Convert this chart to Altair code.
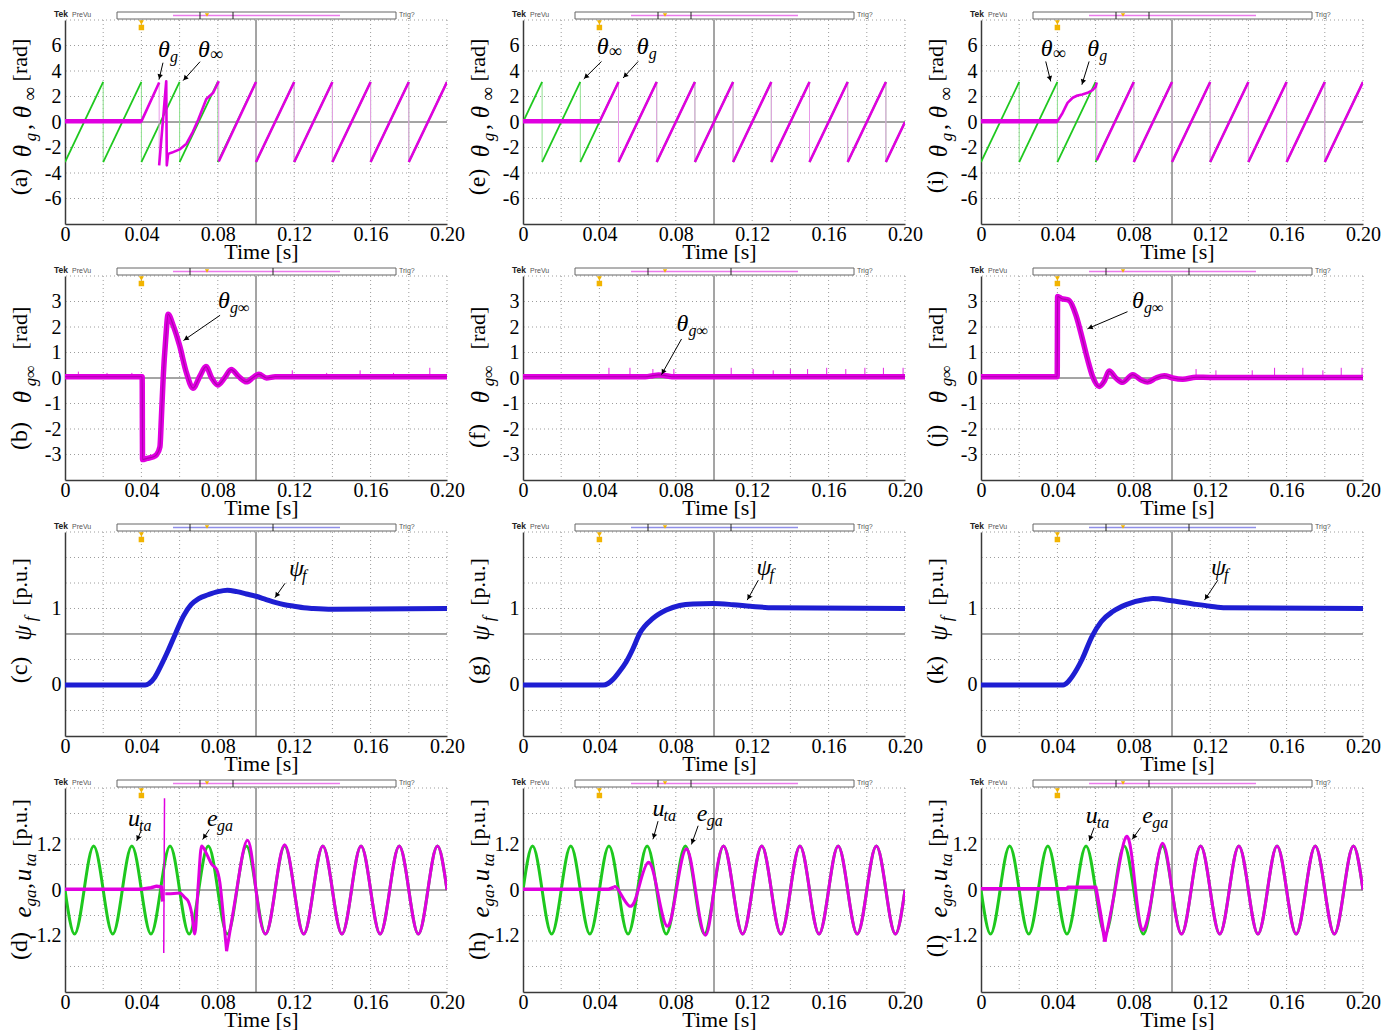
import math
import altair as alt
import pandas as pd

W, H = 382, 204
SERIF = "Liberation Serif"
SANS = "Liberation Sans"
GREEN = "#1ec81e"
GREEN_L = "#8fe08f"
MAG = "#e000e0"
MAG_L = "#e99ae9"
MAG_D = "#8a008a"
BLUE = "#1e1ed2"
GOLD = "#f2b400"
GRIDC = "#9c9c9c"
FRAME = "#3a3a3a"

# ---------------- axes / grid values ----------------
X_LABELS = [0.0, 0.04, 0.08, 0.12, 0.16, 0.2]
X_GRID = [0.02, 0.04, 0.06, 0.08, 0.12, 0.14, 0.16, 0.18, 0.2]
X_CENTER = [0.1]

ROWS = {
    "theta": dict(domain=[-8, 8], labels=[-6, -4, -2, 0, 2, 4, 6],
                  grid=[-6, -4, -2, 2, 4, 6, 8], center=[0.0]),
    "diff": dict(domain=[-4, 4], labels=[-3, -2, -1, 0, 1, 2, 3],
                 grid=[-3, -2, -1, 1, 2, 3, 4], center=[0.0]),
    "psi": dict(domain=[-0.6667, 2.0], labels=[0, 1],
                grid=[-0.3333, 0.0, 0.3333, 1.0, 1.3333, 1.6667, 2.0], center=[0.6667]),
    "volt": dict(domain=[-2.6667, 2.6667], labels=[-1.2, 0, 1.2],
                 grid=[-2.0, -1.3333, -0.6667, 0.6667, 1.3333, 2.0, 2.6667], center=[0.0]),
}

# ---------------- data: row 1 (theta_g, theta_inf) ----------------
SAW_A_T = [0.0, 0.02, 0.02, 0.04, 0.04, 0.06, 0.06, 0.08, 0.08, 0.10, 0.10,
           0.12, 0.12, 0.14, 0.14, 0.16, 0.16, 0.18, 0.18, 0.20]
SAW_A_V = [-3.14, 3.14, -3.14, 3.14, -3.14, 3.14, -3.14, 3.14, -3.14, 3.14,
           -3.14, 3.14, -3.14, 3.14, -3.14, 3.14, -3.14, 3.14, -3.14, 3.14]
A_G_T = [0.0, 0.04, 0.0493, 0.0493, 0.0530, 0.0533, 0.0540, 0.0560, 0.0600, 0.0636,
         0.0670, 0.0698, 0.0740, 0.0776, 0.0805, 0.0805, 0.10, 0.10, 0.12, 0.12,
         0.14, 0.14, 0.16, 0.16, 0.18, 0.18, 0.20]
A_G_V = [0.05, 0.05, 3.1, -3.4, 3.2, -3.4, -2.5, -2.4, -2.15, -1.7,
         -0.75, 0.2, 1.8, 2.3, 3.2, -3.1, 3.14, -3.14, 3.14, -3.14,
         3.14, -3.14, 3.14, -3.14, 3.14, -3.14, 3.14]

SAW_E_T = [0.0, 0.01, 0.01, 0.03, 0.03, 0.05, 0.05, 0.07, 0.07, 0.09, 0.09,
           0.11, 0.11, 0.13, 0.13, 0.15, 0.15, 0.17, 0.17, 0.19, 0.19, 0.20]
SAW_E_V = [0.0, 3.14, -3.14, 3.14, -3.14, 3.14, -3.14, 3.14, -3.14, 3.14, -3.14,
           3.14, -3.14, 3.14, -3.14, 3.14, -3.14, 3.14, -3.14, 3.14, -3.14, 0.0]
E_G_T = [0.0, 0.04, 0.05, 0.05, 0.07, 0.07, 0.09, 0.09, 0.11, 0.11, 0.13, 0.13,
         0.15, 0.15, 0.17, 0.17, 0.19, 0.19, 0.20]
E_G_V = [0.05, 0.0, 3.14, -3.14, 3.14, -3.14, 3.14, -3.14, 3.14, -3.14, 3.14, -3.14,
         3.14, -3.14, 3.14, -3.14, 3.14, -3.14, 0.0]

I_G_T = [0.0, 0.04, 0.0427, 0.0453, 0.048, 0.0505, 0.053, 0.0558, 0.0584, 0.060,
         0.0606, 0.0606, 0.08, 0.08, 0.10, 0.10, 0.12, 0.12, 0.14, 0.14, 0.16, 0.16,
         0.18, 0.18, 0.20]
I_G_V = [0.05, 0.05, 0.71, 1.5, 1.9, 2.08, 2.16, 2.29, 2.5, 2.76,
         3.1, -3.0, 3.14, -3.14, 3.14, -3.14, 3.14, -3.14, 3.14, -3.14, 3.14, -3.14,
         3.14, -3.14, 3.14]

# flat (pre-fault) part of theta_g, drawn as the thick noisy band
FLAT_T = [0.0, 0.04]
FLAT_V = [0.05, 0.05]

# ---------------- data: row 2 (theta_g_inf) ----------------
B_T = [0.0, 0.0404, 0.0406, 0.043, 0.046, 0.048, 0.0497, 0.0505, 0.0514, 0.0527,
       0.054, 0.0566, 0.060, 0.0636, 0.067, 0.0706, 0.0738, 0.0768, 0.0800, 0.0835,
       0.0870, 0.0910, 0.0950, 0.0985, 0.1015, 0.1055, 0.11, 0.2]
B_V = [0.05, 0.05, -3.2, -3.15, -3.1, -3.0, -2.7, -1.5, 0.0, 1.5,
       2.5, 2.07, 1.27, 0.2, -0.4, 0.07, 0.45, 0.0, -0.27, 0.0,
       0.33, 0.05, -0.15, 0.02, 0.15, 0.0, 0.05, 0.05]
B_SPK_T = [0.007, 0.022, 0.035, 0.119, 0.137, 0.1545, 0.172, 0.191]
B_SPK_H = [0.25, 0.2, 0.2, 0.3, 0.2, 0.3, 0.2, 0.4]

F_T = [0.0, 0.064, 0.068, 0.071, 0.074, 0.078, 0.2]
F_V = [0.05, 0.05, 0.09, 0.12, 0.1, 0.05, 0.05]
F_SPK_T = [0.045, 0.056, 0.068, 0.079, 0.109, 0.1205, 0.131, 0.140, 0.149, 0.159,
           0.169, 0.179, 0.1887, 0.199]
F_SPK_H = [0.4, 0.4, 0.35, 0.35, 0.4, 0.35, 0.3, 0.35, 0.35, 0.4, 0.35, 0.4, 0.4, 0.4]

J_T = [0.0, 0.0399, 0.0401, 0.042, 0.046, 0.0497, 0.0531, 0.0558, 0.0584, 0.0619,
       0.0645, 0.0671, 0.0706, 0.0741, 0.0794, 0.0837, 0.0872, 0.0916, 0.096, 0.1003,
       0.1056, 0.1126, 0.12, 0.2]
J_V = [0.05, 0.05, 3.2, 3.12, 3.05, 2.47, 1.53, 0.73, 0.07, -0.33,
       -0.13, 0.27, 0.0, -0.17, 0.13, -0.07, -0.16, 0.0, 0.09, 0.0,
       -0.05, 0.03, 0.02, 0.02]
J_SPK_T = [0.1126, 0.123, 0.142, 0.1537, 0.1685, 0.179, 0.1886, 0.1995]
J_SPK_H = [0.35, 0.3, 0.3, 0.4, 0.4, 0.3, 0.4, 0.4]

# ---------------- data: row 3 (psi_f) ----------------
C_T = [0.0, 0.042, 0.044, 0.047, 0.050, 0.054, 0.058, 0.062, 0.066, 0.070, 0.075,
       0.080, 0.085, 0.090, 0.095, 0.100, 0.105, 0.110, 0.115, 0.120, 0.125, 0.130,
       0.140, 0.2]
C_V = [0.0, 0.0, 0.02, 0.1, 0.24, 0.45, 0.68, 0.9, 1.05, 1.13, 1.18,
       1.22, 1.24, 1.22, 1.19, 1.16, 1.12, 1.08, 1.05, 1.03, 1.01, 1.0,
       0.99, 1.0]
G_T = [0.0, 0.042, 0.0445, 0.0472, 0.050, 0.054, 0.0575, 0.061, 0.068, 0.075, 0.082,
       0.089, 0.0996, 0.110, 0.119, 0.131, 0.2]
G_V = [0.0, 0.0, 0.02, 0.075, 0.16, 0.3, 0.47, 0.67, 0.87, 0.98, 1.04,
       1.06, 1.065, 1.05, 1.03, 1.01, 1.0]
K_T = [0.0, 0.043, 0.0455, 0.048, 0.053, 0.058, 0.063, 0.069, 0.076, 0.0864, 0.090,
       0.100, 0.111, 0.120, 0.128, 0.2]
K_V = [0.0, 0.0, 0.04, 0.12, 0.34, 0.63, 0.83, 0.96, 1.05, 1.12, 1.13,
       1.10, 1.06, 1.03, 1.01, 1.0]

# ---------------- data: row 4 (e_ga, u_ta) ----------------
Q_T = [0.0, 0.005, 0.01, 0.015, 0.02, 0.025, 0.03, 0.035, 0.04, 0.045, 0.05, 0.055,
       0.06, 0.065, 0.07, 0.075, 0.08, 0.085, 0.09, 0.095, 0.1, 0.105, 0.11, 0.115,
       0.12, 0.125, 0.13, 0.135, 0.14, 0.145, 0.15, 0.155, 0.16, 0.165, 0.17, 0.175,
       0.18, 0.185, 0.19, 0.195, 0.2]
U_NEG = [0, -1.15, 0, 1.15, 0, -1.15, 0, 1.15, 0, -1.15, 0, 1.15, 0, -1.15, 0, 1.15,
         0, -1.15, 0, 1.15, 0, -1.15, 0, 1.15, 0, -1.15, 0, 1.15, 0, -1.15, 0, 1.15,
         0, -1.15, 0, 1.15, 0, -1.15, 0, 1.15, 0]
U_POS = [0, 1.15, 0, -1.15, 0, 1.15, 0, -1.15, 0, 1.15, 0, -1.15, 0, 1.15, 0, -1.15,
         0, 1.15, 0, -1.15, 0, 1.15, 0, -1.15, 0, 1.15, 0, -1.15, 0, 1.15, 0, -1.15,
         0, 1.15, 0, -1.15, 0, 1.15, 0, -1.15, 0]

D_E0_T = [0.0, 0.040, 0.045, 0.048, 0.0505, 0.0512]
D_E0_V = [0.02, 0.02, 0.06, 0.1, 0.08, -0.3]
D_SPIKE_T = [0.0517, 0.0521]
D_SPIKE_V = [-1.65, 2.4]
D_E1_T = [0.0525, 0.054, 0.060, 0.0628, 0.0645, 0.0663, 0.068, 0.0697, 0.0715, 0.0741,
          0.0767, 0.0794, 0.0811, 0.0829, 0.0846]
D_E1_V = [-0.1, -0.1, -0.08, -0.2, -0.29, -0.6, -1.15, 0.1, 1.15, 0.95,
          0.68, 0.54, 0.19, -0.68, -1.6]
D_E2_T = [0.0846, 0.0899, 0.0955, 0.1, 0.105, 0.11, 0.115, 0.12, 0.125, 0.13, 0.135,
          0.14, 0.145, 0.15, 0.155, 0.16, 0.165, 0.17, 0.175, 0.18, 0.185, 0.19,
          0.195, 0.2]
D_E2_V = [-1.6, 0.0, 1.3, 0.0, -1.15, 0.0, 1.18, 0.0, -1.15, 0.0, 1.15,
          0.0, -1.15, 0.0, 1.15, 0.0, -1.15, 0.0, 1.15, 0.0, -1.15, 0.0,
          1.15, 0.0]

H_E0_T = [0.0, 0.045, 0.0475]
H_E0_V = [0.02, 0.02, 0.07]
H_E1_T = [0.0475, 0.050, 0.0557, 0.0603, 0.0655, 0.0703, 0.0755, 0.0803, 0.0855,
          0.0903, 0.0955, 0.1, 0.105, 0.11, 0.115, 0.12, 0.125, 0.13, 0.135, 0.14,
          0.145, 0.15, 0.155, 0.16, 0.165, 0.17, 0.175, 0.18, 0.185, 0.19, 0.195, 0.2]
H_E1_V = [0.07, 0.0, -0.42, 0.0, 0.72, 0.0, -0.95, 0.0, 1.08,
          0.0, -1.18, 0.0, 1.15, 0.0, -1.15, 0.0, 1.15, 0.0, -1.15, 0.0,
          1.15, 0.0, -1.15, 0.0, 1.15, 0.0, -1.15, 0.0, 1.15, 0.0, -1.15, 0.0]

L_E0_T = [0.0, 0.045, 0.0455, 0.0601, 0.0625, 0.0649]
L_E0_V = [0.03, 0.03, 0.07, 0.07, -0.6, -1.35]
L_E1_T = [0.0649, 0.0705, 0.0762, 0.0805, 0.0846, 0.090, 0.0951, 0.1, 0.105, 0.11,
          0.115, 0.12, 0.125, 0.13, 0.135, 0.14, 0.145, 0.15, 0.155, 0.16, 0.165,
          0.17, 0.175, 0.18, 0.185, 0.19, 0.195, 0.2]
L_E1_V = [-1.35, 0.1, 1.4, 0.2, -1.05, 0.0, 1.22, 0.0, -1.15, 0.0,
          1.15, 0.0, -1.15, 0.0, 1.15, 0.0, -1.15, 0.0, 1.15, 0.0, -1.15,
          0.0, 1.15, 0.0, -1.15, 0.0, 1.15, 0.0]

LETTERS = [["(a)", "(e)", "(i)"], ["(b)", "(f)", "(j)"],
           ["(c)", "(g)", "(k)"], ["(d)", "(h)", "(l)"]]

ONE = pd.DataFrame({"k": [0]})

# ---------------- helpers ----------------
XSCALE = alt.Scale(domain=[0, 0.2], nice=False, zero=False)
XAXIS = alt.Axis(values=X_LABELS,
                 labelExpr="datum.value == 0 ? '0' : format(datum.value, '.2f')",
                 grid=False, ticks=False, tickSize=0, domain=True, domainColor=FRAME,
                 domainWidth=1.5, labelFont=SERIF, labelFontSize=20, labelColor="black",
                 labelPadding=0, labelOverlap=False, labelFlush=False,
                 title="Time [s]", titleFont=SERIF, titleFontSize=22,
                 titleFontWeight="normal", titleColor="black", titleX=196, titleY=34,
                 titleBaseline="alphabetic")


def yscale(kind):
    return alt.Scale(domain=ROWS[kind]["domain"], nice=False, zero=False)


def yaxis(kind):
    return alt.Axis(values=ROWS[kind]["labels"], labelExpr="'' + datum.value",
                    grid=False, ticks=False, tickSize=0, domain=True, domainColor=FRAME,
                    domainWidth=1.5, labelFont=SERIF, labelFontSize=20,
                    labelColor="black", labelPadding=4, labelOverlap=False, title="")


def xenc(field):
    return alt.X(field, type="quantitative", scale=XSCALE, axis=XAXIS)


def yenc(field, kind):
    return alt.Y(field, type="quantitative", scale=yscale(kind), axis=yaxis(kind))


def xd(t):
    return alt.XDatum(t, type="quantitative", scale=XSCALE, axis=XAXIS)


def yd(v, kind):
    return alt.YDatum(v, type="quantitative", scale=yscale(kind), axis=yaxis(kind))


def trace(ts, vs, kind, color, width, interp="linear", drop_color=None, opacity=1.0):
    """Line through the points; equal consecutive times are drawn as thin drops."""
    seg, segs, drops = 0, [], []
    for i in range(len(ts)):
        if i > 0 and ts[i] == ts[i - 1]:
            seg += 1
            drops.append((ts[i], vs[i - 1], vs[i]))
        segs.append(seg)
    df = pd.DataFrame({"t": ts, "v": vs, "i": list(range(len(ts))), "s": segs})
    out = []
    if drops:
        dd = pd.DataFrame({"t": [d[0] for d in drops], "a": [d[1] for d in drops],
                           "b": [d[2] for d in drops]})
        out.append(alt.Chart(dd).mark_rule(color=drop_color or color, strokeWidth=1).encode(
            x=xenc("t"), y=yenc("a", kind), y2="b:Q"))
    out.append(alt.Chart(df).mark_line(color=color, strokeWidth=width, interpolate=interp,
                                       clip=True, strokeJoin="round", opacity=opacity).encode(
        x=xenc("t"), y=yenc("v", kind), detail="s:N", order=alt.Order("i:Q")))
    return out


def spikes(ts, hs, kind, color):
    df = pd.DataFrame({"t": ts, "lo": [0.05] * len(ts), "hi": hs})
    return [alt.Chart(df).mark_rule(color=color, strokeWidth=1, opacity=0.85).encode(
        x=xenc("t"), y=yenc("lo", kind), y2="hi:Q")]


def grids(kind):
    r = ROWS[kind]
    dot = dict(color=GRIDC, strokeDash=[1, 3], strokeWidth=1)
    return [
        alt.Chart(pd.DataFrame({"t": X_GRID})).mark_rule(**dot).encode(x=xenc("t")),
        alt.Chart(pd.DataFrame({"v": r["grid"]})).mark_rule(**dot).encode(y=yenc("v", kind)),
        alt.Chart(pd.DataFrame({"t": X_CENTER})).mark_rule(color="#4a4a4a", strokeWidth=1).encode(x=xenc("t")),
        alt.Chart(pd.DataFrame({"v": r["center"]})).mark_rule(color="#4a4a4a", strokeWidth=1).encode(y=yenc("v", kind)),
    ]


def ptxt(text, x, y, size, italic=False, angle=0, align="center", color="black",
         font=SERIF, weight="normal"):
    kw = dict(text=text, font=font, fontSize=size, align=align, baseline="alphabetic",
              color=color, fontWeight=weight)
    if italic:
        kw["fontStyle"] = "italic"
    if angle:
        kw["angle"] = angle
    return alt.Chart(ONE).mark_text(**kw).encode(x=alt.value(x), y=alt.value(y))


def dtxt(text, t, v, kind, size, italic=True, dx=0, dy=0):
    kw = dict(text=text, font=SERIF, fontSize=size, align="left", baseline="alphabetic",
              color="black", dx=dx, dy=dy)
    if italic:
        kw["fontStyle"] = "italic"
    return alt.Chart(ONE).mark_text(**kw).encode(x=xd(t), y=yd(v, kind))


def symbol(t, v, kind, main, sub, sub_italic=True, sub_size=16, sub_dx=12, sub_dy=5):
    return [dtxt(main, t, v, kind, 24),
            dtxt(sub, t, v, kind, sub_size, italic=sub_italic, dx=sub_dx, dy=sub_dy)]


def arrow(t1, v1, t2, v2, kind):
    lo, hi = ROWS[kind]["domain"]
    kx = W / 0.2
    ky = H / (hi - lo)
    dx = (t2 - t1) * kx
    dy = -(v2 - v1) * ky
    L = math.hypot(dx, dy)
    ang = math.degrees(math.atan2(dx, -dy)) % 360
    th = t2 - 3 * dx / L / kx
    vh = v2 + 3 * dy / L / ky
    line = alt.Chart(ONE).mark_rule(color="black", strokeWidth=1).encode(
        x=xd(t1), y=yd(v1, kind), x2=alt.datum(t2), y2=alt.datum(v2))
    head = alt.Chart(ONE).mark_point(shape="triangle-up", filled=True, color="black",
                                     size=30, angle=ang, opacity=1).encode(
        x=xd(th), y=yd(vh, kind))
    return [line, head]


def header(row):
    inner = "#8f8fe8" if row == 2 else "#ea7aea"
    br = [135, 168] if row in (0, 3) else [125, 208]
    out = [
        ptxt("Tek", -11, -3, 8.5, font=SANS, weight="bold", align="left", color="#222"),
        ptxt("PreVu", 7, -3, 7, font=SANS, align="left", color="#555"),
        alt.Chart(ONE).mark_rect(fill="white", stroke="#666", strokeWidth=1).encode(
            x=alt.value(52), x2=alt.value(331), y=alt.value(-8), y2=alt.value(-1)),
        alt.Chart(ONE).mark_rule(color=inner, strokeWidth=1.5).encode(
            x=alt.value(108), x2=alt.value(275), y=alt.value(-4.5)),
        ptxt("Trig?", 334, -3, 7, font=SANS, align="left", color="#555"),
        alt.Chart(ONE).mark_point(shape="triangle-down", filled=True, color=GOLD, size=18,
                                  opacity=1).encode(x=alt.value(142), y=alt.value(-5)),
        alt.Chart(ONE).mark_point(shape="triangle-down", filled=True, color=GOLD, size=26,
                                  opacity=1).encode(x=alt.value(76.4), y=alt.value(2.5)),
        alt.Chart(ONE).mark_point(shape="square", filled=True, color=GOLD, size=30,
                                  opacity=1).encode(x=alt.value(76.4), y=alt.value(7.5)),
    ]
    for b in br:
        out.append(alt.Chart(ONE).mark_rule(color="#222", strokeWidth=1).encode(
            x=alt.value(b), y=alt.value(-8), y2=alt.value(-1)))
    return out


# baselines of the rotated y-title pieces (pixels left of the plot)
TXT_X = -38    # panel letter and unit
MATH_X = -34   # math symbols
SUB_X = -29    # subscripts
TITLES = {
    0: [("LBL", 162, 24, False, "t"), ("θ", 131, 25, True, "m"),
        ("g", 117, 17, True, "s"), (",", 107, 24, False, "m"),
        ("θ", 92, 25, True, "m"), ("∞", 74, 19, False, "s"),
        ("[rad]", 40, 22, False, "t")],
    1: [("LBL", 160, 24, False, "t"), ("θ", 121, 25, True, "m"),
        ("g∞", 100, 17, True, "s"), ("[rad]", 52, 22, False, "t")],
    2: [("LBL", 138, 24, False, "t"), ("ψ", 101, 25, True, "m"),
        ("f", 87, 17, True, "s"), ("[p.u.]", 50, 22, False, "t")],
    3: [("LBL", 158, 24, False, "t"), ("e", 124, 25, True, "m"),
        ("ga", 110, 17, True, "s"), (",", 98, 24, False, "m"),
        ("u", 87, 25, True, "m"), ("ta", 72, 17, True, "s"),
        ("[p.u.]", 35, 22, False, "t")],
}
XPOS = {"t": TXT_X, "m": MATH_X, "s": SUB_X}


def ytitle(row, col):
    out = []
    for text, yc, size, it, role in TITLES[row]:
        if text == "LBL":
            text = LETTERS[row][col]
        out.append(ptxt(text, XPOS[role], yc, size, italic=it, angle=270))
    return out


def panel(row, col, kind, content):
    layers = grids(kind) + content + header(row) + ytitle(row, col)
    if row == 0 and col == 0:
        layers.append(alt.Chart(ONE).mark_rule(opacity=0, strokeWidth=0.01).encode(
            x=alt.value(0), x2=alt.value(0), y=alt.value(-12), y2=alt.value(-12)))
    return alt.layer(*layers).properties(width=W, height=H)


TH = "theta"
pa = panel(0, 0, TH,
           trace(SAW_A_T, SAW_A_V, TH, GREEN, 1.8, drop_color=GREEN_L)
           + trace(A_G_T, A_G_V, TH, MAG, 2.6, drop_color=MAG_L)
           + trace(FLAT_T, FLAT_V, TH, MAG, 4.5)
           + symbol(0.0487, 5.1, TH, "θ", "g")
           + symbol(0.0696, 5.1, TH, "θ", "∞", sub_italic=False, sub_size=18, sub_dy=3)
           + arrow(0.0513, 4.65, 0.0492, 3.32, TH)
           + arrow(0.0707, 4.73, 0.0618, 3.24, TH))
pe = panel(0, 1, TH,
           trace(SAW_E_T, SAW_E_V, TH, GREEN, 1.8, drop_color=GREEN_L)
           + trace(E_G_T, E_G_V, TH, MAG, 2.6, drop_color=MAG_L)
           + trace(FLAT_T, FLAT_V, TH, MAG, 4.5)
           + symbol(0.0386, 5.3, TH, "θ", "∞", sub_italic=False, sub_size=18, sub_dy=3)
           + symbol(0.0596, 5.3, TH, "θ", "g")
           + arrow(0.0411, 4.75, 0.0318, 3.37, TH)
           + arrow(0.0603, 4.75, 0.0524, 3.45, TH))
pi = panel(0, 2, TH,
           trace(SAW_A_T, SAW_A_V, TH, GREEN, 1.8, drop_color=GREEN_L)
           + trace(I_G_T, I_G_V, TH, MAG, 2.6, drop_color=MAG_L)
           + trace(FLAT_T, FLAT_V, TH, MAG, 4.5)
           + symbol(0.0313, 5.2, TH, "θ", "∞", sub_italic=False, sub_size=18, sub_dy=3)
           + symbol(0.0556, 5.2, TH, "θ", "g")
           + arrow(0.0339, 4.75, 0.0365, 3.18, TH)
           + arrow(0.0566, 4.75, 0.0528, 2.92, TH))

DF = "diff"
pb = panel(1, 0, DF,
           spikes(B_SPK_T, B_SPK_H, DF, MAG)
           + trace(B_T, B_V, DF, MAG, 5.5, "monotone")
           + trace(B_T, B_V, DF, MAG_D, 1.2, "monotone", opacity=0.6)
           + symbol(0.0801, 2.73, DF, "θ", "g∞")
           + arrow(0.0812, 2.46, 0.0620, 1.47, DF))
pf = panel(1, 1, DF,
           spikes(F_SPK_T, F_SPK_H, DF, MAG)
           + trace(F_T, F_V, DF, MAG, 5.5, "monotone")
           + trace(F_T, F_V, DF, MAG_D, 1.2, "monotone", opacity=0.6)
           + symbol(0.0804, 1.85, DF, "θ", "g∞")
           + arrow(0.083, 1.53, 0.0725, 0.13, DF))
pj = panel(1, 2, DF,
           spikes(J_SPK_T, J_SPK_H, DF, MAG)
           + trace(J_T, J_V, DF, MAG, 5.5, "monotone")
           + trace(J_T, J_V, DF, MAG_D, 1.2, "monotone", opacity=0.6)
           + symbol(0.0791, 2.73, DF, "θ", "g∞")
           + arrow(0.0767, 2.6, 0.0557, 1.93, DF))

PS = "psi"
pc = panel(2, 0, PS, trace(C_T, C_V, PS, BLUE, 5, "monotone")
           + symbol(0.1173, 1.42, PS, "ψ", "f", sub_dx=13)
           + arrow(0.1152, 1.33, 0.1099, 1.14, PS))
pg = panel(2, 1, PS, trace(G_T, G_V, PS, BLUE, 5, "monotone")
           + symbol(0.1223, 1.44, PS, "ψ", "f", sub_dx=13)
           + arrow(0.1232, 1.37, 0.1174, 1.11, PS))
pk = panel(2, 2, PS, trace(K_T, K_V, PS, BLUE, 5, "monotone")
           + symbol(0.1204, 1.44, PS, "ψ", "f", sub_dx=13)
           + arrow(0.124, 1.37, 0.117, 1.11, PS))

VT = "volt"
pd_ = panel(3, 0, VT,
            trace(Q_T, U_NEG, VT, GREEN, 3, "natural")
            + trace(D_E0_T, D_E0_V, VT, MAG, 3.5)
            + trace(D_SPIKE_T, D_SPIKE_V, VT, MAG, 1.5)
            + trace(D_E1_T, D_E1_V, VT, MAG, 3, "monotone")
            + trace(D_E2_T, D_E2_V, VT, MAG, 3, "natural")
            + symbol(0.033, 1.68, VT, "u", "ta", sub_dx=11)
            + symbol(0.0743, 1.68, VT, "e", "ga", sub_dx=10)
            + arrow(0.0401, 1.58, 0.0375, 1.28, VT)
            + arrow(0.0755, 1.58, 0.0721, 1.32, VT))
ph = panel(3, 1, VT,
           trace(Q_T, U_POS, VT, GREEN, 3, "natural")
           + trace(H_E0_T, H_E0_V, VT, MAG, 3.5)
           + trace(H_E1_T, H_E1_V, VT, MAG, 3, "natural")
           + symbol(0.0678, 1.94, VT, "u", "ta", sub_dx=11)
           + symbol(0.091, 1.81, VT, "e", "ga", sub_dx=10)
           + arrow(0.0707, 1.8, 0.0681, 1.33, VT)
           + arrow(0.0917, 1.68, 0.0882, 1.19, VT))
pl = panel(3, 2, VT,
           trace(Q_T, U_NEG, VT, GREEN, 3, "natural")
           + trace(L_E0_T, L_E0_V, VT, MAG, 3.5)
           + trace(L_E1_T, L_E1_V, VT, MAG, 3, "natural")
           + symbol(0.0549, 1.76, VT, "u", "ta", sub_dx=11)
           + symbol(0.0844, 1.76, VT, "e", "ga", sub_dx=10)
           + arrow(0.0592, 1.63, 0.0566, 1.28, VT)
           + arrow(0.0835, 1.63, 0.0791, 1.32, VT))

chart = alt.concat(pa, pe, pi, pb, pf, pj, pc, pg, pk, pd_, ph, pl, columns=3,
                   spacing={"row": 52, "column": 76}, bounds="flush").properties(
    padding=0).configure_view(strokeWidth=0).configure_axis(labelOverlap=False)

chart.save("out.html", embed_options={"renderer": "svg", "actions": False})
